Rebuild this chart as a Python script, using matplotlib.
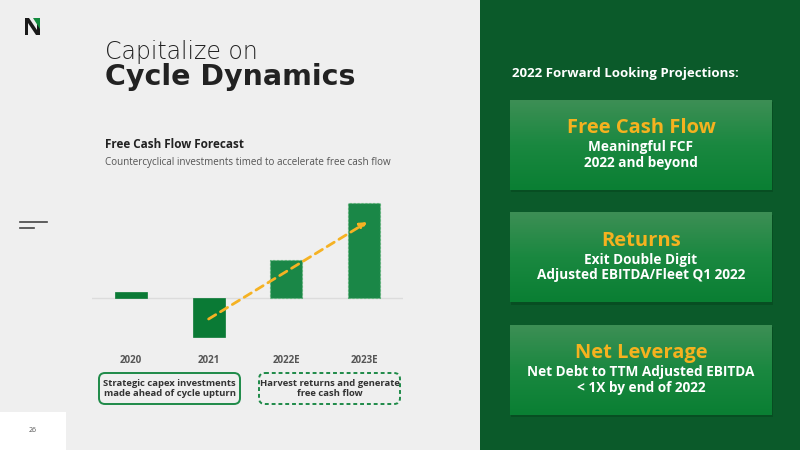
import matplotlib.pyplot as plt
import numpy as np
from matplotlib.patches import Rectangle, FancyBboxPatch, Polygon
from matplotlib.colors import LinearSegmentedColormap

# data
years = ["2020", "2021", "2022E", "2023E"]
fcf = [6, -39, 38, 95]
is_estimate = [False, False, True, True]
trend_from = (1.0, -21)
trend_to = (3.04, 76)

captions = ["Strategic capex investments\nmade ahead of cycle upturn",
            "Harvest returns and generate\nfree cash flow"]

card_titles = ["Free Cash Flow", "Returns", "Net Leverage"]
card_texts = ["Meaningful FCF\n2022 and beyond",
              "Exit Double Digit\nAdjusted EBITDA/Fleet Q1 2022",
              "Net Debt to TTM Adjusted EBITDA\n< 1X by end of 2022"]

plt.rcParams['font.family'] = ['Open Sans', 'DejaVu Sans']

fig = plt.figure(figsize=(8, 4.5), dpi=100, facecolor="#efefef")

# background layer in pixel coordinates
bg = fig.add_axes([0, 0, 1, 1], zorder=0)
bg.set_xlim(0, 800)
bg.set_ylim(450, 0)
bg.axis("off")

# right green panel
bg.add_patch(Rectangle((480, 0), 320, 450, color="#0b5a2a", lw=0))

# logo
bg.add_patch(Polygon([(25, 18), (29, 18), (37, 30), (37, 18), (40, 18), (40, 35),
                      (36, 35), (28, 23), (28, 35), (25, 35)], color="#1a1a1a", lw=0))
bg.add_patch(Polygon([(33, 18), (40, 18), (40, 29)], color="#138a3e", lw=0))

# title
bg.text(105, 52, "Capitalize on", fontsize=17, family="DejaVu Sans",
        fontweight="light", color="#222222", va="center")
bg.text(105, 77, "Cycle Dynamics", fontsize=20.5, family="DejaVu Sans",
        fontweight="bold", color="#222222", va="center")

bg.text(105, 145, "Free Cash Flow Forecast", fontsize=8.5, fontweight="bold",
        color="#222222", va="center")
bg.text(105, 163, "Countercyclical investments timed to accelerate free cash flow",
        fontsize=7.1, color="#555555", va="center")

# side dashes
bg.plot([20, 47], [222, 222], color="#444444", lw=1.2)
bg.plot([20, 34], [227.5, 227.5], color="#444444", lw=1.2)

# page number box
bg.add_patch(Rectangle((0, 412), 66, 38, color="white", lw=0))
bg.text(33, 430, "26", fontsize=5, color="#555555", ha="center", va="center")

# caption boxes
for i, txt in enumerate(captions):
    x0 = 99 + i * 160
    bg.add_patch(FancyBboxPatch((x0, 373), 141, 31,
                                boxstyle="round,pad=0,rounding_size=6",
                                fc="none", ec="#1e8a48", lw=1.4,
                                ls="-" if i == 0 else (0, (2, 1.5))))
    bg.text(x0 + 70.5, 388.5, txt, fontsize=6.8, fontweight="bold",
            color="#333333", ha="center", va="center", linespacing=1.1)

# right side heading
bg.text(512, 74, "2022 Forward Looking Projections:", fontsize=9.5,
        fontweight="bold", color="white", va="center")

# cards with gradient
grad = np.linspace(0, 1, 100).reshape(-1, 1)
cmap = LinearSegmentedColormap.from_list("card", ["#3d8f55", "#1a8840", "#0a7f33"])
for i in range(3):
    y0 = 100 + i * 112.5
    bg.add_patch(Rectangle((511, y0 + 2), 262, 90, color="#064a20", lw=0, alpha=0.7))
    bg.imshow(grad, cmap=cmap, aspect="auto", extent=(510, 772, y0 + 90, y0),
              zorder=2)
    bg.text(641, y0 + 28, card_titles[i], fontsize=14.5, fontweight="bold",
            color="#f5b21f", ha="center", va="center", zorder=3)
    bg.text(641, y0 + 55, card_texts[i], fontsize=9.8, fontweight="bold",
            color="white", ha="center", va="center", linespacing=1.1, zorder=3)
bg.set_xlim(0, 800)
bg.set_ylim(450, 0)

# chart
ax = fig.add_axes([0.115, 0.2333, 0.38875, 0.3333], zorder=1)
ax.patch.set_alpha(0)
x = np.arange(len(years))
ax.axhline(0, color="#dcdcdc", lw=1, zorder=1)
bars = ax.bar(x, fcf, width=0.41, zorder=2)
for b, est in zip(bars, is_estimate):
    if est:
        b.set_facecolor("#1a8747")
        b.set_edgecolor("#5fb27a")
        b.set_linestyle((0, (2, 1.5)))
        b.set_linewidth(0.8)
    else:
        b.set_facecolor("#0a7a35")
        b.set_edgecolor("#0a7a35")
        b.set_linewidth(0.5)

ax.annotate("", xy=trend_to, xytext=trend_from,
            arrowprops=dict(arrowstyle="-|>", color="#f5b223", lw=2,
                            ls=(0, (3, 2)), mutation_scale=10, shrinkA=0, shrinkB=0),
            zorder=3)

ax.set_xlim(-0.5, 3.5)
ax.set_ylim(-47, 103)
ax.set_xticks(x)
ax.set_xticklabels(years, fontsize=7, fontweight="bold", color="#555555")
ax.tick_params(length=0, pad=7)
ax.set_yticks([])
for s in ax.spines.values():
    s.set_visible(False)

fig.savefig("out.png", dpi=100, facecolor=fig.get_facecolor())
